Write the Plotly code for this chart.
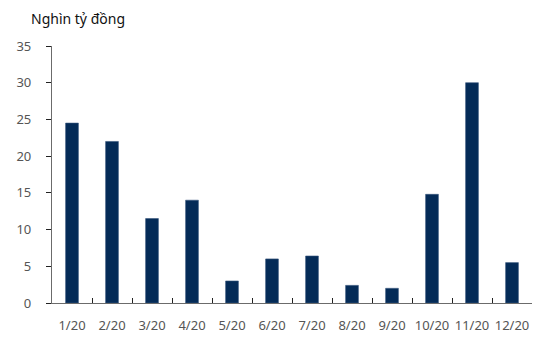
import plotly.graph_objects as go

months = ["1/20", "2/20", "3/20", "4/20", "5/20", "6/20",
          "7/20", "8/20", "9/20", "10/20", "11/20", "12/20"]
values = [24.5, 22.0, 11.5, 14.0, 3.0, 6.0, 6.4, 2.4, 2.0, 14.8, 30.0, 5.5]
y_ticks = [0, 5, 10, 15, 20, 25, 30, 35]
unit_label = "Nghìn tỷ đồng"

W, H = 535, 338
FONT = "Noto Sans"
AXIS = "#6b6b6b"
TEXT = "#555555"

fig = go.Figure(go.Bar(
    x=months, y=values,
    marker=dict(color="#042b57", line=dict(color="#36557c", width=0.6)),
    width=0.32,
))

fig.update_layout(
    width=W, height=H,
    margin=dict(l=52, r=3, t=46, b=35),
    paper_bgcolor="white", plot_bgcolor="white",
    showlegend=False,
    font=dict(family=FONT, size=13, color=TEXT),
    annotations=[dict(
        text=unit_label, xref="paper", yref="paper",
        x=-23 / 480, y=1 + 27 / 257, xanchor="left", yanchor="middle",
        showarrow=False, font=dict(family=FONT, size=14, color="#111111"),
    )],
)

fig.update_xaxes(
    type="category", showline=True, linecolor=AXIS, linewidth=1.3,
    ticks="inside", tickson="boundaries", ticklen=5, tickcolor="#222222",
    tickwidth=1.2, showgrid=False, zeroline=False, tickangle=0,
    ticklabelstandoff=10, tickfont=dict(size=13, color=TEXT),
)
fig.update_yaxes(
    range=[0, 35], tickvals=y_ticks, showline=True, linecolor=AXIS,
    linewidth=1.3, ticks="outside", ticklen=5, tickcolor="#222222",
    tickwidth=1.2, showgrid=False, zeroline=False,
    ticklabelstandoff=12, tickfont=dict(size=13, color=TEXT),
)

fig.write_html("out.html")
